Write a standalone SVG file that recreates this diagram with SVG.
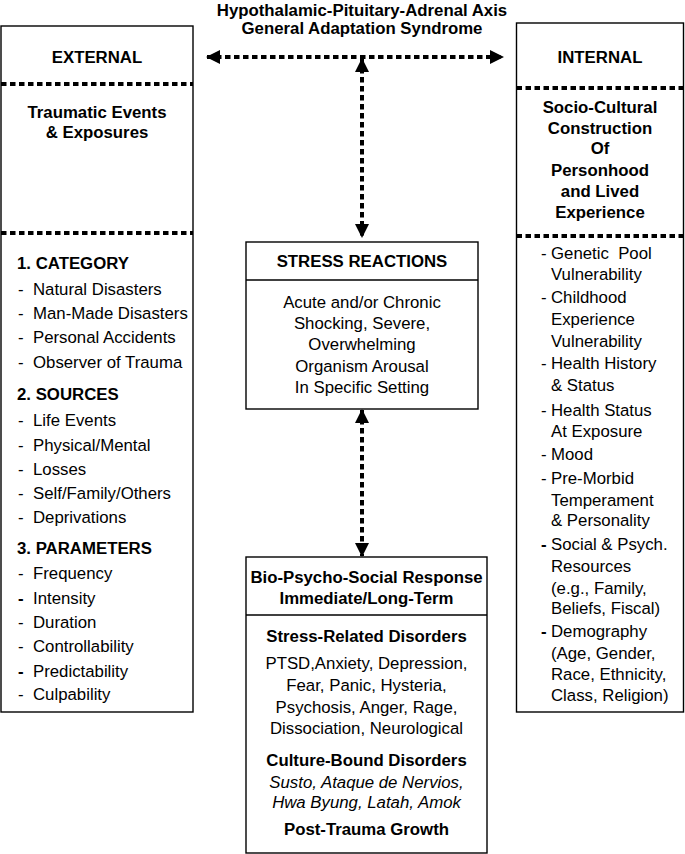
<svg xmlns="http://www.w3.org/2000/svg" width="685" height="854" viewBox="0 0 685 854">
<defs>
<style>
text{font-family:"Liberation Sans",Arial,sans-serif;font-size:16.8px;fill:#000}
.b{font-weight:bold}
.c{text-anchor:middle}
.i{font-style:italic}
.box{fill:#fff;stroke:#000;stroke-width:1.4}
.div{stroke:#000;stroke-width:1.4;fill:none}
.dot{stroke:#000;stroke-width:4;stroke-dasharray:5.5 3.5;fill:none}
.conn{stroke:#000;stroke-width:4;stroke-dasharray:5.5 3.5;fill:none}
</style>
<marker id="ah" viewBox="0 0 14 14" refX="13" refY="7" markerWidth="14" markerHeight="14" markerUnits="userSpaceOnUse" orient="auto-start-reverse">
<path d="M0,0 L14,7 L0,14 Z" fill="#000"/>
</marker>
</defs>
<rect width="685" height="854" fill="#fff"/>

<g id="title">
<text class="b c" x="362" y="16">Hypothalamic-Pituitary-Adrenal Axis</text>
<text class="b c" x="362" y="34">General Adaptation Syndrome</text>
</g>

<g id="connectors">
<path class="conn" d="M207,57 L503,57" marker-start="url(#ah)" marker-end="url(#ah)"/>
<path class="conn" d="M362,59 L362,237" marker-start="url(#ah)" marker-end="url(#ah)"/>
<path class="conn" d="M362,410 L362,556" marker-start="url(#ah)" marker-end="url(#ah)"/>
</g>

<g id="external">
<rect class="box" x="1" y="26" width="192" height="686"/>
<line class="dot" x1="1" y1="84" x2="193" y2="84"/>
<line class="dot" x1="1" y1="233" x2="193" y2="233"/>
<text class="b c" x="97" y="63">EXTERNAL</text>
<text class="b c" x="97" y="118">Traumatic Events</text>
<text class="b c" x="97" y="138">&amp; Exposures</text>
<text class="b" x="17" y="269">1. CATEGORY</text>
<text x="18" y="295">-</text><text x="33" y="295">Natural Disasters</text>
<text x="18" y="319">-</text><text x="33" y="319">Man-Made Disasters</text>
<text x="18" y="343">-</text><text x="33" y="343">Personal Accidents</text>
<text x="18" y="368">-</text><text x="33" y="368">Observer of Trauma</text>
<text class="b" x="17" y="400">2. SOURCES</text>
<text x="18" y="426">-</text><text x="33" y="426">Life Events</text>
<text x="18" y="451">-</text><text x="33" y="451">Physical/Mental</text>
<text x="18" y="475">-</text><text x="33" y="475">Losses</text>
<text x="18" y="499">-</text><text x="33" y="499">Self/Family/Others</text>
<text x="18" y="523">-</text><text x="33" y="523">Deprivations</text>
<text class="b" x="17" y="554">3. PARAMETERS</text>
<text x="18" y="579">-</text><text x="33" y="579">Frequency</text>
<text class="b" x="18" y="604">-</text><text x="33" y="604">Intensity</text>
<text x="18" y="628">-</text><text x="33" y="628">Duration</text>
<text x="18" y="652">-</text><text x="33" y="652">Controllability</text>
<text class="b" x="18" y="677">-</text><text x="33" y="677">Predictability</text>
<text x="18" y="700">-</text><text x="33" y="700">Culpability</text>
</g>

<g id="internal">
<rect class="box" x="516.5" y="23" width="167" height="689"/>
<line class="dot" x1="516.5" y1="88" x2="683.5" y2="88"/>
<line class="dot" x1="516.5" y1="236" x2="683.5" y2="236"/>
<text class="b c" x="600" y="63">INTERNAL</text>
<text class="b c" x="600" y="113">Socio-Cultural</text>
<text class="b c" x="600" y="134">Construction</text>
<text class="b c" x="600" y="154">Of</text>
<text class="b c" x="600" y="176">Personhood</text>
<text class="b c" x="600" y="197">and Lived</text>
<text class="b c" x="600" y="218">Experience</text>
<text x="541" y="259">-</text><text x="551" y="259">Genetic&#160; Pool</text>
<text x="551" y="280">Vulnerability</text>
<text x="541" y="303">-</text><text x="551" y="303">Childhood</text>
<text x="551" y="325">Experience</text>
<text x="551" y="347">Vulnerability</text>
<text x="541" y="369">-</text><text x="551" y="369">Health History</text>
<text x="551" y="391">&amp; Status</text>
<text x="541" y="416">-</text><text x="551" y="416">Health Status</text>
<text x="551" y="437">At Exposure</text>
<text x="541" y="460">-</text><text x="551" y="460">Mood</text>
<text x="541" y="484">-</text><text x="551" y="484">Pre-Morbid</text>
<text x="551" y="506">Temperament</text>
<text x="551" y="526">&amp; Personality</text>
<text class="b" x="541" y="550">-</text><text x="551" y="550">Social &amp; Psych.</text>
<text x="551" y="572">Resources</text>
<text x="551" y="594">(e.g., Family,</text>
<text x="551" y="614">Beliefs, Fiscal)</text>
<text class="b" x="541" y="637">-</text><text x="551" y="637">Demography</text>
<text x="551" y="659">(Age, Gender,</text>
<text x="551" y="680">Race, Ethnicity,</text>
<text x="551" y="701">Class, Religion)</text>
</g>

<g id="stress">
<rect class="box" x="246" y="242" width="232" height="167"/>
<line class="div" x1="246" y1="280" x2="478" y2="280"/>
<text class="b c" x="362" y="267">STRESS REACTIONS</text>
<text class="c" x="362" y="308">Acute and/or Chronic</text>
<text class="c" x="362" y="329">Shocking, Severe,</text>
<text class="c" x="362" y="350">Overwhelming</text>
<text class="c" x="362" y="372">Organism Arousal</text>
<text class="c" x="362" y="393">In Specific Setting</text>
</g>

<g id="response">
<rect class="box" x="246" y="557" width="241" height="296"/>
<line class="div" x1="246" y1="615" x2="487" y2="615"/>
<text class="b c" x="366.5" y="583">Bio-Psycho-Social Response</text>
<text class="b c" x="366.5" y="604">Immediate/Long-Term</text>
<text class="b c" x="366.5" y="642">Stress-Related Disorders</text>
<text class="c" x="366.5" y="669">PTSD,Anxiety, Depression,</text>
<text class="c" x="366.5" y="691">Fear, Panic, Hysteria,</text>
<text class="c" x="366.5" y="713">Psychosis, Anger, Rage,</text>
<text class="c" x="366.5" y="734">Dissociation, Neurological</text>
<text class="b c" x="366.5" y="766">Culture-Bound Disorders</text>
<text class="i c" x="366.5" y="788">Susto, Ataque de Nervios,</text>
<text class="i c" x="366.5" y="808">Hwa Byung, Latah, Amok</text>
<text class="b c" x="366.5" y="835">Post-Trauma Growth</text>
</g>
</svg>
